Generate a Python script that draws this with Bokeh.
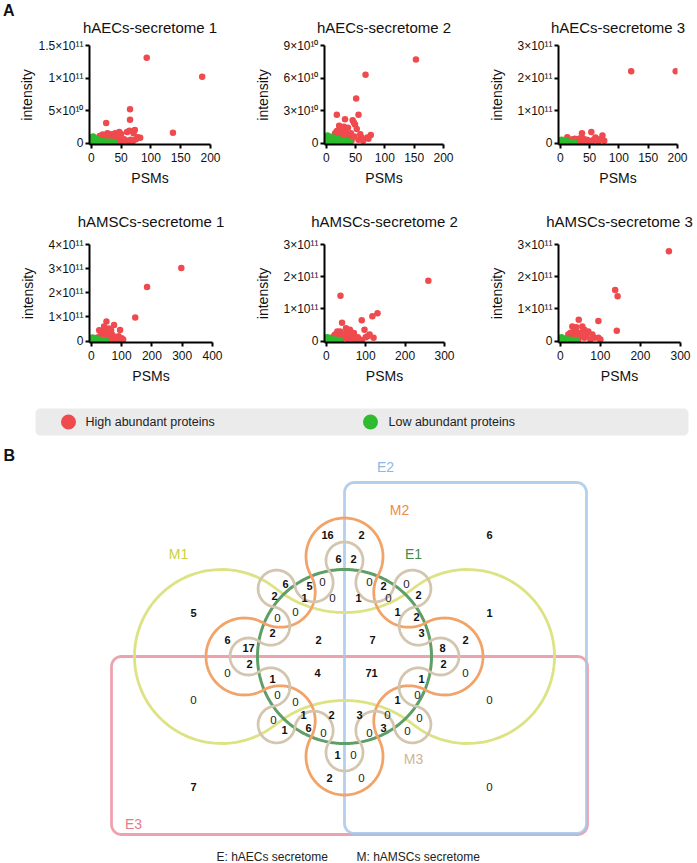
import math
import numpy as np
from bokeh.plotting import figure
from bokeh.models import Range1d, FixedTicker, CustomJSTickFormatter, Div, Spacer
from bokeh.layouts import column, row
from bokeh.embed import file_html
from bokeh.resources import INLINE
from bokeh.core.properties import value

FONT = "Liberation Sans"

# ------------------------------------------------------------------ Panel A data
titles = ["hAECs-secretome 1", "hAECs-secretome 2", "hAECs-secretome 3",
          "hAMSCs-secretome 1", "hAMSCs-secretome 2", "hAMSCs-secretome 3"]
x_label = "PSMs"
y_label = "intensity"
x_max = [200, 200, 200, 400, 300, 300]
y_max = [1.5e11, 9e10, 3e11, 4e11, 3e11, 3e11]
x_tick_values = [[0, 50, 100, 150, 200], [0, 50, 100, 150, 200], [0, 50, 100, 150, 200],
                 [0, 100, 200, 300, 400], [0, 100, 200, 300], [0, 100, 200, 300]]
y_tick_values = [[0, 5e10, 1e11, 1.5e11], [0, 3e10, 6e10, 9e10], [0, 1e11, 2e11, 3e11],
                 [0, 1e11, 2e11, 3e11, 4e11], [0, 1e11, 2e11, 3e11], [0, 1e11, 2e11, 3e11]]
legend_labels = ["High abundant proteins", "Low abundant proteins"]

UNIT = 1e9  # intensities below are listed in units of 1e9

aec1_high_psm = [93, 186, 65, 65, 25, 137, 73, 71, 78, 82, 47, 50, 44, 40, 35, 30, 28, 22, 18, 15, 20, 25,
                 32, 38, 42, 36, 28, 22, 16, 12, 10, 45, 55, 58, 62, 66, 70, 75, 52, 48, 33, 27, 19, 14, 60, 64]
aec1_high_int = [131, 102, 52, 36, 31, 16, 20, 15, 9, 8, 17, 14, 12, 15, 13, 14, 11, 12, 10, 8, 6, 8,
                 9, 7, 5, 4, 4, 3, 4, 5, 3, 9, 6, 4, 2, 5, 3, 6, 3, 2, 2, 15, 13, 11, 17, 19]
aec1_low_psm = [1, 2, 3, 3, 4, 5, 6, 7, 8, 9, 10, 11, 12, 13, 14, 15, 16, 18, 19, 20, 22, 24, 26, 28, 30,
                33, 36, 39, 2, 5, 8, 12, 17, 25, 4]
aec1_low_int = [1, 3, 6, 10, 2, 4, 1, 3, 7, 2, 5, 1, 3, 2, 4, 1, 2, 3, 1, 2, 1, 2, 1, 2, 1,
                2, 1, 1, 0.5, 0.3, 0.5, 0.4, 0.3, 0.5, 8]

aec2_high_psm = [153, 67, 51, 18, 55, 32, 45, 47, 49, 52, 22, 24, 76, 70, 72, 55, 60, 28, 35, 40, 15, 12,
                 20, 26, 30, 38, 42, 45, 10, 8, 16, 33, 37, 43, 48, 58, 63, 18, 25, 30]
aec2_high_int = [77, 63, 41, 26, 26, 22, 21, 19, 17, 13, 16, 12, 7.5, 5, 4, 3, 5, 10, 8, 6, 9, 6,
                 7, 5, 4, 3, 9, 5, 4, 2, 3, 12, 14, 2, 6, 8, 2, 11, 8, 15]
aec2_low_psm = [1, 2, 3, 4, 5, 6, 7, 8, 9, 10, 11, 12, 14, 15, 16, 18, 20, 22, 24, 26, 28, 30, 33, 36, 40,
                2, 5, 12, 20, 3, 9, 17, 25]
aec2_low_int = [1, 3, 5, 2, 4, 1, 3, 5, 2, 1, 3, 2, 4, 1, 2, 3, 1, 2, 1, 2, 1, 2, 1, 2, 1,
                7, 6, 5, 4, 0.5, 0.5, 0.5, 0.5]

aec3_high_psm = [121, 197, 37, 53, 72, 60, 57, 75, 38, 45, 50, 12, 25, 30, 20, 15, 28, 35, 42, 33, 22, 18,
                 40, 48, 55, 65, 68, 10, 8, 26, 36, 46]
aec3_high_int = [221, 221, 30, 34, 23, 17, 10, 7, 15, 10, 5, 18, 13, 10, 8, 6, 5, 7, 4, 14, 12, 10,
                 12, 8, 3, 5, 12, 5, 3, 3, 2, 2]
aec3_low_psm = [1, 2, 3, 4, 5, 6, 7, 8, 9, 10, 11, 12, 13, 14, 15, 16, 18, 20, 22, 24, 2, 5, 1, 10, 19]
aec3_low_int = [1, 4, 8, 2, 5, 1, 3, 6, 2, 1, 4, 2, 5, 1, 3, 2, 1, 3, 1, 2, 10, 9, 0.5, 0.5, 0.5]

amsc1_high_psm = [297, 184, 145, 50, 75, 26, 95, 40, 55, 60, 35, 45, 30, 50, 65, 70, 80, 90, 100, 20, 25,
                  40, 55, 60, 35, 45, 30, 20, 15, 10, 85, 70, 95, 105, 48, 58, 42, 65]
amsc1_high_int = [303, 224, 98, 81, 67, 45, 46, 38, 40, 32, 30, 28, 22, 20, 18, 25, 15, 20, 12, 15, 10,
                  12, 10, 8, 8, 5, 5, 6, 4, 2, 8, 5, 4, 6, 50, 52, 60, 45]
amsc1_low_psm = [1, 3, 5, 7, 9, 11, 13, 15, 17, 19, 21, 23, 25, 28, 31, 34, 37, 40, 44, 48, 4, 8, 12, 20,
                 30, 2]
amsc1_low_int = [2, 5, 10, 3, 6, 2, 8, 4, 1, 5, 2, 6, 3, 1, 4, 2, 3, 1, 2, 1, 15, 12, 1, 0.5,
                 0.5, 0.5]

amsc2_high_psm = [259, 36, 130, 117, 90, 40, 97, 60, 70, 35, 105, 100, 80, 60, 50, 45, 30, 25, 20, 55, 40,
                  65, 75, 85, 110, 15, 50, 38, 28, 22, 18, 42, 120, 10, 70, 90]
amsc2_high_int = [187, 141, 86, 77, 65, 57, 35, 35, 25, 30, 15, 12, 12, 10, 22, 15, 18, 10, 8, 5, 6,
                  18, 8, 5, 20, 5, 40, 25, 30, 20, 14, 10, 10, 3, 3, 2]
amsc2_low_psm = [1, 3, 5, 7, 9, 11, 13, 15, 17, 19, 21, 23, 25, 28, 31, 34, 2, 6, 10, 14, 4, 20]
amsc2_low_int = [2, 5, 8, 3, 6, 2, 4, 1, 5, 2, 3, 1, 4, 2, 1, 3, 12, 10, 1, 0.5, 0.5, 0.5]

amsc3_high_psm = [271, 137, 143, 141, 95, 46, 30, 40, 38, 60, 70, 48, 95, 60, 85, 25, 20, 35, 50, 55, 42,
                  30, 15, 25, 45, 65, 75, 100, 10, 55, 33, 22, 80]
amsc3_high_int = [279, 159, 139, 32, 62, 66, 45, 43, 33, 35, 30, 25, 10, 10, 10, 25, 20, 20, 15, 28, 15,
                  10, 8, 5, 5, 18, 5, 5, 4, 45, 30, 12, 20]
amsc3_low_psm = [1, 3, 5, 7, 9, 11, 13, 15, 17, 19, 21, 23, 25, 28, 31, 34, 37, 40, 3, 6, 12, 24]
amsc3_low_int = [2, 5, 9, 3, 6, 2, 4, 1, 5, 2, 3, 1, 4, 2, 1, 3, 1, 2, 12, 0.5, 0.5, 0.5]

high_psm = [aec1_high_psm, aec2_high_psm, aec3_high_psm, amsc1_high_psm, amsc2_high_psm, amsc3_high_psm]
high_int = [aec1_high_int, aec2_high_int, aec3_high_int, amsc1_high_int, amsc2_high_int, amsc3_high_int]
low_psm = [aec1_low_psm, aec2_low_psm, aec3_low_psm, amsc1_low_psm, amsc2_low_psm, amsc3_low_psm]
low_int = [aec1_low_int, aec2_low_int, aec3_low_int, amsc1_low_int, amsc2_low_int, amsc3_low_int]

# ------------------------------------------------------------------ Panel B data
set_names = ["E1", "E2", "E3", "M1", "M2", "M3"]
footnotes = ["E: hAECs secretome", "M: hAMSCs secretome"]
region_counts = [16, 6, 6, 5, 0, 2, 1, 0, 0, 0, 2, 2, 6, 17, 5,
                 2, 2, 1, 0, 2, 0, 2, 0, 1, 2, 3, 7, 8, 2, 6, 1,
                 2, 0, 4, 1, 0, 0, 0, 0, 1, 2, 1, 6, 0, 1, 2, 7,
                 2, 0, 71, 1, 0, 1, 0, 3, 0, 0, 3, 0, 0, 0, 0, 0]

# layout: label position of each region (page pixel coordinates)
region_pos = [(327, 534), (338, 558), (285, 583), (309, 585), (322, 581), (274, 595), (304, 597),
              (332, 597), (295, 611), (277, 617), (272, 632), (318, 639), (227, 639), (248, 647),
              (193, 612),
              (361, 534), (353, 558), (358, 597), (369, 581), (383, 585), (406, 583), (418, 594),
              (388, 597), (397, 611), (416, 616), (421, 632), (372, 639), (442, 647), (465, 639),
              (489, 534), (489, 612),
              (249, 663), (227, 672), (317, 672), (272, 678), (277, 694), (295, 701), (193, 699),
              (273, 719), (303, 714), (331, 714), (284, 729), (308, 727), (323, 732), (337, 754),
              (329, 777), (193, 786),
              (443, 663), (465, 672), (371, 672), (421, 678), (417, 694), (397, 699), (489, 699),
              (359, 714), (387, 714), (419, 717), (383, 727), (369, 732), (407, 730), (353, 754),
              (361, 777), (489, 786)]

# ------------------------------------------------------------------ styles
RED = "#ef4a4e"
GREEN = "#2fbb2f"

tick_js = """
if (Math.abs(tick) < 1) { return "0"; }
const sup = ["\\u2070","\\u00b9","\\u00b2","\\u00b3","\\u2074","\\u2075","\\u2076","\\u2077","\\u2078","\\u2079"];
const e = Math.floor(Math.log10(Math.abs(tick)) + 1e-9);
const m = Math.round(tick / Math.pow(10, e) * 10) / 10;
let es = "";
for (const c of String(e)) { es += sup[parseInt(c)]; }
return String(m) + "\\u00d7" + "10" + es;
"""


def scatter_fig(i, w, h, left, right, top, bottom, ylab_standoff, title_standoff):
    xm, ym = x_max[i], y_max[i]
    p = figure(width=w, height=h, output_backend="svg", toolbar_location=None,
               x_range=Range1d(-0.015 * xm, xm), y_range=Range1d(-0.015 * ym, ym),
               min_border_left=left, min_border_right=right,
               min_border_top=top, min_border_bottom=bottom, title=titles[i])
    p.title.text_font = FONT
    p.title.text_font_size = "15px"
    p.title.text_font_style = "normal"
    p.title.align = "center"
    p.title.text_color = "#111111"
    p.title.standoff = title_standoff
    p.grid.visible = False
    p.outline_line_color = None
    p.xaxis.ticker = FixedTicker(ticks=x_tick_values[i])
    p.yaxis.ticker = FixedTicker(ticks=y_tick_values[i])
    p.yaxis.formatter = CustomJSTickFormatter(code=tick_js)
    for ax in (p.xaxis, p.yaxis):
        ax.axis_line_width = 2
        ax.axis_line_color = "black"
        ax.major_tick_line_width = 2
        ax.major_tick_line_color = "black"
        ax.major_tick_out = 4
        ax.major_tick_in = 0
        ax.minor_tick_line_color = None
        ax.major_label_text_font = FONT
        ax.major_label_text_font_size = "12px"
        ax.major_label_text_color = "#111111"
        ax.axis_label_text_font = FONT
        ax.axis_label_text_font_size = "14px"
        ax.axis_label_text_font_style = "normal"
        ax.axis_label_text_color = "#111111"
    p.xaxis.axis_label = x_label
    p.yaxis.axis_label = y_label
    p.xaxis.major_label_standoff = 4
    p.xaxis.axis_label_standoff = 5
    p.yaxis.major_label_standoff = 2
    p.yaxis.axis_label_standoff = ylab_standoff
    p.scatter([v for v in high_psm[i]], [v * UNIT for v in high_int[i]], size=6.5,
              fill_color=RED, line_color=None)
    p.scatter([v for v in low_psm[i]], [v * UNIT for v in low_int[i]], size=6.5,
              fill_color=GREEN, line_color=None)
    return p


# page has no margin here: canvas pixels == page pixels
LETTER_W = 16
col_w = [235 - LETTER_W, 227, 235]
row1_border = [(89 - LETTER_W, 25), (89, 19), (96, 20)]
row2_border = [(89 - LETTER_W, 23), (89, 18), (96, 17)]
ylab_sd = [0, 9, 9, 9, 9, 9]

figs1 = [scatter_fig(i, col_w[i], 200, row1_border[i][0], row1_border[i][1], 45, 56, ylab_sd[i], 19)
         for i in range(3)]
figs2 = [scatter_fig(i + 3, col_w[i], 202, row2_border[i][0], row2_border[i][1], 44, 60, ylab_sd[i + 3], 25)
         for i in range(3)]
for p in figs2:
    p.title.vertical_align = "top"

letter_a = Div(text="A", width=LETTER_W, height=200, margin=0,
               styles={"font-family": FONT, "font-size": "16px", "font-weight": "bold",
                       "color": "#111111", "padding-left": "3px", "padding-top": "2px",
                       "line-height": "18px"})
spacer2 = Spacer(width=LETTER_W, height=202, margin=0)

# ------------------------------------------------------------------ Panel B (page-pixel coordinates)
v = figure(width=697, height=461, output_backend="svg", toolbar_location=None,
           x_range=Range1d(0, 697), y_range=Range1d(863, 402),
           x_axis_type=None, y_axis_type=None, min_border=0)
v.outline_line_color = None


def rrect(x0, y0, x1, y1, r, n=10):
    xs, ys = [], []
    corners = [(x1 - r, y0 + r, -90, 0), (x1 - r, y1 - r, 0, 90),
               (x0 + r, y1 - r, 90, 180), (x0 + r, y0 + r, 180, 270)]
    for cx, cy, a0, a1 in corners:
        for t in np.linspace(math.radians(a0), math.radians(a1), n):
            xs.append(cx + r * math.cos(t))
            ys.append(cy + r * math.sin(t))
    return xs, ys


def cogwheel(cx, cy, lobes, n=90):
    cen = [(d * math.cos(math.radians(a)), d * math.sin(math.radians(a))) for a, d, r, cv in lobes]
    N = len(lobes)
    rad = [r for a, d, r, cv in lobes]
    for i in range(N):
        if rad[i] is None:
            j = (i + 1) % N
            rad[i] = math.dist(cen[i], cen[j]) - rad[j]

    def tang(i, j):
        dx, dy = cen[j][0] - cen[i][0], cen[j][1] - cen[i][1]
        L = math.hypot(dx, dy)
        return (cen[i][0] + rad[i] * dx / L, cen[i][1] + rad[i] * dy / L)

    xs, ys = [], []
    for i in range(N):
        A = tang(i, (i - 1) % N)
        B = tang(i, (i + 1) % N)
        a0 = math.atan2(A[1] - cen[i][1], A[0] - cen[i][0])
        a1 = math.atan2(B[1] - cen[i][1], B[0] - cen[i][0])
        if lobes[i][3]:
            while a1 <= a0:
                a1 += 2 * math.pi
        else:
            while a1 >= a0:
                a1 -= 2 * math.pi
        for t in np.linspace(a0, a1, n):
            xs.append(cx + cen[i][0] + rad[i] * math.cos(t))
            ys.append(cy - (cen[i][1] + rad[i] * math.sin(t)))
    xs.append(xs[0])
    ys.append(ys[0])
    return xs, ys


CX, CY, R = 344, 656, 87

# legend bar
lx, ly = rrect(35, 408, 688, 435, 5)
v.patch(lx, ly, fill_color="#ebebeb", line_color=None)
v.scatter([68, 370], [421.5, 421.5], size=15, fill_color=[RED, GREEN], line_color=None)
v.text([85, 388], [421.5, 421.5], text=legend_labels, text_font=value(FONT),
       text_font_size=value("12.5px"), text_align="left", text_baseline="middle", text_color="#222222")

# E3, E2 rectangles
e3x, e3y = rrect(111, 656, 587, 834, 10)
v.patch(e3x, e3y, fill_color=None, line_color="#eb99a4", line_width=2.8, line_alpha=0.9)
e2x, e2y = rrect(344, 482, 586, 833, 10)
v.patch(e2x, e2y, fill_color=None, line_color="#a7c7e7", line_width=2.8, line_alpha=0.85)

# M1 (2 lobes), E1 circle, M2 (4 lobes), M3 (8 lobes)
m1 = [(0, 123, 87, True), (90, 154.4, None, False), (180, 123, 87, True), (270, 154.4, None, False)]
mx, my = cogwheel(CX, CY, m1)
v.line(mx, my, line_color="#dde283", line_width=2.8)

t = np.linspace(0, 2 * math.pi, 361)
v.line(CX + R * np.cos(t), CY - R * np.sin(t), line_color="#5f9e66", line_width=3)

m2 = []
for k in range(4):
    m2.append((90 * k, 100, 38.5, True))
    m2.append((90 * k + 45, 91, None, False))
mx, my = cogwheel(CX, CY, m2)
v.line(mx, my, line_color="#f2a468", line_width=2.8)

m3 = []
for k in range(8):
    m3.append((45 * k, 96, 18.5, True))
    m3.append((45 * k + 22.5, 80, None, False))
mx, my = cogwheel(CX, CY, m3)
v.line(mx, my, line_color="#d4c6ae", line_width=2.8)

# set labels (layout positions)
label_pos = {"E1": (413, 553), "E2": (385, 466), "E3": (133, 823),
             "M1": (178, 553), "M2": (399, 509), "M3": (413, 758)}
label_col = {"E1": "#3f8c4c", "E2": "#8cb8e2", "E3": "#e57b8a",
             "M1": "#cbcf45", "M2": "#ef8c44", "M3": "#d3b48e"}
v.text([label_pos[s][0] for s in set_names], [label_pos[s][1] for s in set_names], text=set_names,
       text_color=[label_col[s] for s in set_names], text_font=value(FONT),
       text_font_size=value("14px"), text_align="center", text_baseline="middle")

# region counts
nz = [i for i, c in enumerate(region_counts) if c != 0]
zz = [i for i, c in enumerate(region_counts) if c == 0]
v.text([region_pos[i][0] for i in nz], [region_pos[i][1] for i in nz],
       text=[str(region_counts[i]) for i in nz], text_font=value(FONT), text_font_size=value("11px"),
       text_font_style="bold", text_align="center", text_baseline="middle", text_color="#111111")
v.text([region_pos[i][0] for i in zz], [region_pos[i][1] for i in zz],
       text=[str(region_counts[i]) for i in zz], text_font=value(FONT), text_font_size=value("11.5px"),
       text_align="center", text_baseline="middle", text_color="#222222")

# footnotes and panel letter
v.text([216, 356], [856, 856], text=footnotes, text_font=value(FONT), text_font_size=value("12px"),
       text_align="left", text_baseline="middle", text_color="#222222")
v.text([3], [455], text=["B"], text_font=value(FONT), text_font_size=value("16px"),
       text_font_style="bold", text_align="left", text_baseline="middle", text_color="#111111")

layout = column(row(letter_a, *figs1), row(spacer2, *figs2), v)

with open("out.html", "w", encoding="utf-8") as f:
    f.write(file_html(layout, INLINE))
